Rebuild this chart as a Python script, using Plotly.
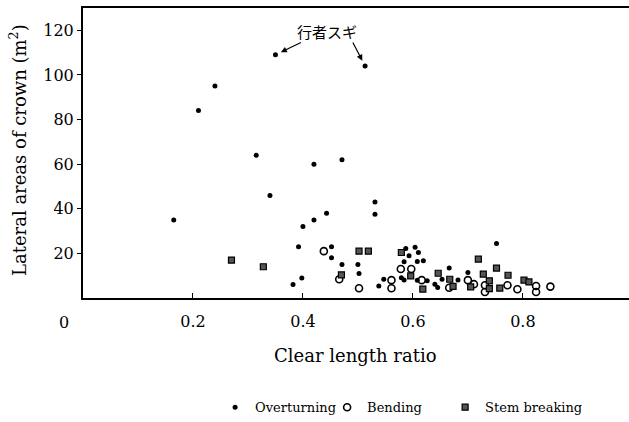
import plotly.graph_objects as go

# Overturning (filled dots)
over_x = [0.165, 0.21, 0.24, 0.315, 0.34, 0.35, 0.382, 0.392, 0.398, 0.40, 0.42, 0.42,
          0.443, 0.452, 0.452, 0.471, 0.471, 0.50, 0.502, 0.513, 0.531, 0.531, 0.538,
          0.547, 0.579, 0.584, 0.584, 0.587, 0.593, 0.604, 0.61, 0.608, 0.619, 0.608,
          0.626, 0.64, 0.645, 0.653, 0.666, 0.682, 0.70, 0.752]
over_y = [35, 84, 95, 64, 46, 109, 6, 23, 9, 32, 60, 35,
          38, 23, 18, 62, 15, 15, 11, 104, 43, 37.5, 5.4,
          8.4, 9.1, 8.1, 16.2, 22.2, 18.9, 22.7, 20.4, 16.4, 16.7, 8,
          7.7, 6.2, 4.7, 8.4, 13.4, 8.1, 11.4, 24.4]

# Bending (open circles)
bend_x = [0.438, 0.466, 0.502, 0.561, 0.561, 0.578, 0.597, 0.616, 0.666, 0.70, 0.711,
          0.731, 0.731, 0.772, 0.79, 0.824, 0.824, 0.85]
bend_y = [21, 8.4, 4.4, 8, 4.4, 13, 13, 8, 4.6, 8, 6.2,
          5.7, 2.7, 5.7, 3.9, 5.4, 2.7, 5.1]

# Stem breaking (squares)
stem_x = [0.270, 0.328, 0.470, 0.502, 0.519, 0.579, 0.596, 0.618, 0.646, 0.667, 0.673,
          0.705, 0.719, 0.728, 0.739, 0.739, 0.752, 0.758, 0.773, 0.802, 0.811]
stem_y = [17, 14, 10.4, 21, 21, 20.4, 9.9, 4, 11.1, 8.4, 5.2,
          5, 17.4, 10.7, 7.7, 4.2, 13.4, 4.4, 10.2, 8, 7.2]

x_ticks = [0.2, 0.4, 0.6, 0.8]
x_tick_labels = ["0.2", "0.4", "0.6", "0.8"]
y_ticks = [20, 40, 60, 80, 100, 120]

# annotated trees (行者スギ)
gyoja_x = [0.35, 0.513]
gyoja_y = [109, 104]

SERIF = "DejaVu Serif"

fig = go.Figure()
fig.add_trace(go.Scatter(x=over_x, y=over_y, mode="markers", name="Overturning",
                         legendwidth=67,
                         marker=dict(symbol="circle", size=5, color="black")))
fig.add_trace(go.Scatter(x=bend_x, y=bend_y, mode="markers", name="Bending",
                         legendwidth=73,
                         marker=dict(symbol="circle-open", size=7, color="black",
                                     line=dict(width=1.6, color="black"))))
fig.add_trace(go.Scatter(x=stem_x, y=stem_y, mode="markers", name="Stem breaking",
                         legendwidth=105,
                         marker=dict(symbol="square", size=6, color="#555555",
                                     line=dict(width=1.2, color="black"))))

fig.update_layout(
    width=629, height=422,
    margin=dict(l=83, r=0, t=8, b=124),
    paper_bgcolor="white", plot_bgcolor="white",
    font=dict(family=SERIF, color="black"),
    showlegend=True,
    legend=dict(orientation="h", xref="container", yref="container",
                x=0.342, y=0.035, xanchor="left", yanchor="middle",
                font=dict(size=13, family=SERIF), itemwidth=30,
                bgcolor="rgba(0,0,0,0)"),
    xaxis=dict(range=[0, 0.993], tickvals=x_ticks, ticktext=x_tick_labels,
               ticks="inside", ticklen=5, tickwidth=1.2, tickcolor="black",
               showline=True, linewidth=2, linecolor="black", mirror=True,
               showgrid=False, zeroline=False, ticklabelstandoff=8,
               tickfont=dict(size=16, family=SERIF)),
    yaxis=dict(range=[0, 130], tickvals=y_ticks,
               ticks="outside", ticklen=4, tickwidth=1.2, tickcolor="black",
               showline=True, linewidth=2, linecolor="black",
               showgrid=False, zeroline=False,
               tickfont=dict(size=16, family=SERIF)),
)

# axis titles
fig.add_annotation(text="Clear length ratio", xref="paper", yref="paper",
                   x=(355 - 83) / 546, y=-(355 - 298) / 290, showarrow=False,
                   xanchor="center", yanchor="middle",
                   font=dict(size=18, family=SERIF))
fig.add_annotation(text="Lateral areas of crown (m<sup>2</sup>)", xref="paper", yref="paper",
                   x=-(83 - 18) / 546, y=(298 - 150) / 290, showarrow=False,
                   xanchor="center", yanchor="middle",
                   textangle=-90, font=dict(size=18, family=SERIF))
# origin label
fig.add_annotation(text="0", xref="paper", yref="paper",
                   x=-(83 - 64) / 546, y=-(322 - 298) / 290, showarrow=False,
                   xanchor="center", yanchor="middle",
                   font=dict(size=16, family=SERIF))

# 行者スギ label with arrows
fig.add_annotation(text="行者スギ", xref="paper", yref="paper",
                   x=(327 - 83) / 546, y=(298 - 31) / 290, showarrow=False,
                   xanchor="center", yanchor="middle",
                   font=dict(size=15, family="Noto Sans CJK JP"))
fig.add_annotation(x=gyoja_x[0], y=gyoja_y[0], xref="x", yref="y", text="",
                   showarrow=True, ax=27, ay=-13, arrowhead=2, arrowsize=1,
                   arrowwidth=1.2, standoff=6, arrowcolor="black")
fig.add_annotation(x=gyoja_x[1], y=gyoja_y[1], xref="x", yref="y", text="",
                   showarrow=True, ax=-13, ay=-25, arrowhead=2, arrowsize=1,
                   arrowwidth=1.2, standoff=6, arrowcolor="black")

fig.write_html("out.html")
